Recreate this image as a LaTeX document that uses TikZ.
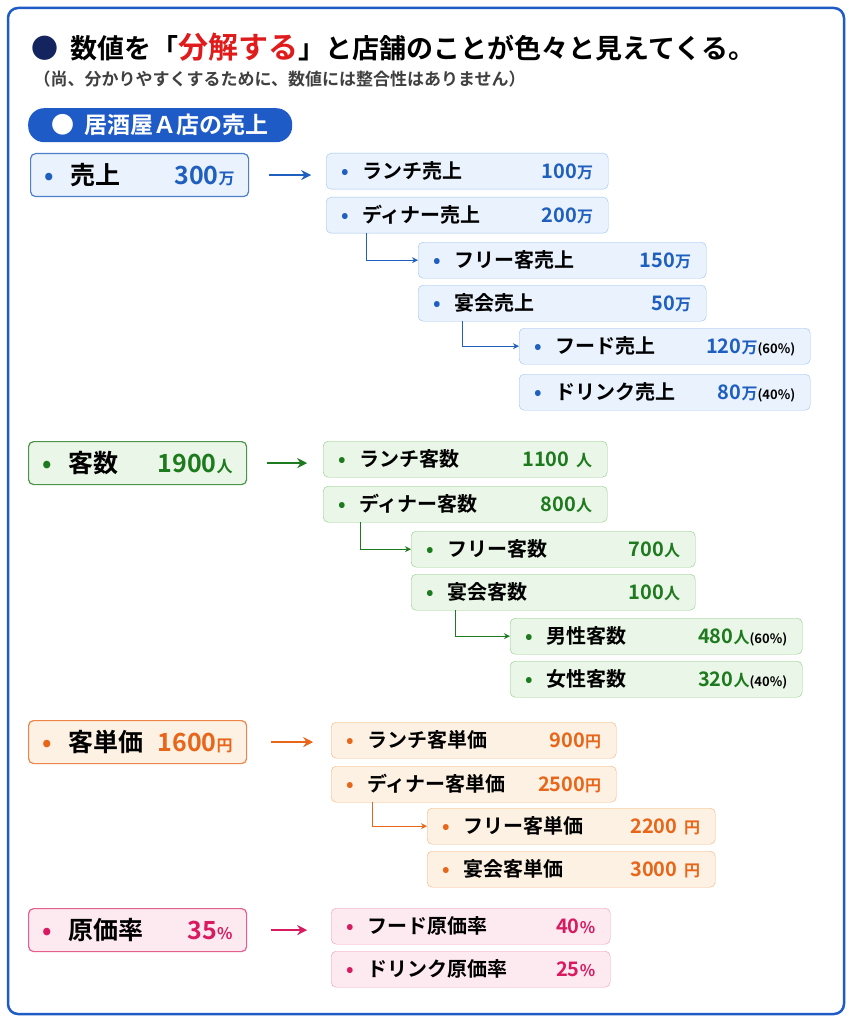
\documentclass[tikz,border=0pt]{standalone}
\usepackage{fontspec}
\setmainfont{Noto Sans CJK JP}[BoldFont={Noto Sans CJK JP Bold}]
\usetikzlibrary{arrows.meta}
\definecolor{frameblue}{HTML}{1E5BC6}
\definecolor{navy}{HTML}{14245E}
\definecolor{titlered}{HTML}{E01B1B}
\definecolor{bluetxt}{HTML}{1F5FBF}
\definecolor{bluefill}{HTML}{EAF2FD}
\definecolor{blueline}{HTML}{9CC3EF}
\definecolor{greentxt}{HTML}{1E7A1E}
\definecolor{greenfill}{HTML}{EAF6E7}
\definecolor{greenline}{HTML}{8FCC88}
\definecolor{orangetxt}{HTML}{E8661A}
\definecolor{orangefill}{HTML}{FDF1E3}
\definecolor{orangeline}{HTML}{F5B37A}
\definecolor{pinktxt}{HTML}{D81B60}
\definecolor{pinkfill}{HTML}{FDE9F0}
\definecolor{pinkline}{HTML}{F09AB8}
\newcommand{\pct}[1]{{\fontsize{13}{14}\selectfont\color{black}#1}}
\newcommand{\un}[1]{{\fontsize{16}{17}\selectfont #1}}

\begin{document}
\begin{tikzpicture}[x=1pt,y=-1pt,font=\bfseries]
    % Define styles
    \tikzset{
      box/.style={rectangle, rounded corners=5pt, anchor=north west, inner xsep=15pt,
        minimum height=36pt, align=left, font=\bfseries\fontsize{20}{22}\selectfont},
      mainbox/.style={box, line width=1.2pt, minimum height=43pt, inner xsep=14pt,
        font=\bfseries\fontsize{25}{27}\selectfont},
      bsub/.style={box, draw=blueline, fill=bluefill},
      gsub/.style={box, draw=greenline, fill=greenfill},
      osub/.style={box, draw=orangeline, fill=orangefill},
      psub/.style={box, draw=pinkline, fill=pinkfill},
      barrow/.style={-{Stealth[length=6pt,width=6pt]}, line width=1pt, bluetxt},
      garrow/.style={-{Stealth[length=6pt,width=6pt]}, line width=1pt, greentxt},
      oarrow/.style={-{Stealth[length=6pt,width=6pt]}, line width=1pt, orangetxt},
      parrow/.style={-{Stealth[length=6pt,width=6pt]}, line width=1pt, pinktxt},
      bigarrow/.style={-{Stealth[length=10pt,width=10pt]}, line width=2pt}
    }
    \useasboundingbox (0,0) rectangle (852,1024);
    \fill[white] (0,0) rectangle (852,1024);
    \draw[frameblue, line width=2.5pt, rounded corners=10pt] (8,8) rectangle (844,1014);

    % Title
    \node[anchor=west, font=\bfseries\fontsize{27}{29}\selectfont] (title) at (28,47)
      {\textcolor{navy}{●}\ \ 数値を「\textcolor{titlered}{\fontsize{30}{31}\selectfont 分解する}」と店舗のことが色々と見えてくる。};
    \node[anchor=west, font=\bfseries\fontsize{17}{18}\selectfont, text=black!75] (note) at (30,79)
      {（尚、分かりやすくするために、数値には整合性はありません）};
    \node[anchor=north west, fill=frameblue, text=white, rounded corners=16pt, minimum width=264pt,
      minimum height=34pt, inner xsep=14pt, font=\bfseries\fontsize{23}{24}\selectfont] (head) at (28,108)
      {●\ \ 居酒屋Ａ店の売上\hfill};

    % Sales
    \node[mainbox, draw=bluetxt!80, fill=bluefill, text width=190pt] (bm) at (30,153)
      {\textcolor{bluetxt}{•}\ \ 売上\hfill\textcolor{bluetxt}{300\un{万}}\hspace{10pt}};
    \node[bsub, text width=252pt] (b1) at (326,153) {\textcolor{bluetxt}{•}\ \ ランチ売上\hfill\textcolor{bluetxt}{100\un{万}}\hspace{20pt}};
    \node[bsub, text width=252pt] (b2) at (326,197) {\textcolor{bluetxt}{•}\ \ ディナー売上\hfill\textcolor{bluetxt}{200\un{万}}\hspace{17pt}};
    \node[bsub, text width=258pt] (b3) at (418,242) {\textcolor{bluetxt}{•}\ \ フリー客売上\hfill\textcolor{bluetxt}{150\un{万}}\hspace{16pt}};
    \node[bsub, text width=258pt] (b4) at (418,285) {\textcolor{bluetxt}{•}\ \ 宴会売上\hfill\textcolor{bluetxt}{50\un{万}}\hspace{24pt}};
    \node[bsub, text width=261pt] (b5) at (519,328) {\textcolor{bluetxt}{•}\ \ フード売上\hfill\textcolor{bluetxt}{120\un{万}}\pct{(60\%)}};
    \node[bsub, text width=261pt] (b6) at (519,374) {\textcolor{bluetxt}{•}\ \ ドリンク売上\hfill\textcolor{bluetxt}{80\un{万}}\pct{(40\%)}};
    \draw[bigarrow, bluetxt] ([xshift=20pt]bm.east) -- ([xshift=62pt]bm.east);
    \draw[barrow] ([xshift=40pt]b2.south west) |- (b3.west);
    \draw[barrow] ([xshift=44pt]b4.south west) |- (b5.west);

    % Customers
    \node[mainbox, draw=greentxt!80, fill=greenfill, text width=190pt] (gm) at (28,441)
      {\textcolor{greentxt}{•}\ \ 客数\hfill\textcolor{greentxt}{1900\un{人}}\hspace{10pt}};
    \node[gsub, text width=254pt] (g1) at (323,441) {\textcolor{greentxt}{•}\ \ ランチ客数\hfill\textcolor{greentxt}{1100\ \un{人}}\hspace{8pt}};
    \node[gsub, text width=254pt] (g2) at (323,486) {\textcolor{greentxt}{•}\ \ ディナー客数\hfill\textcolor{greentxt}{800\un{人}}\hspace{22pt}};
    \node[gsub, text width=254pt] (g3) at (411,531) {\textcolor{greentxt}{•}\ \ フリー客数\hfill\textcolor{greentxt}{700\un{人}}\hspace{8pt}};
    \node[gsub, text width=254pt] (g4) at (411,574) {\textcolor{greentxt}{•}\ \ 宴会客数\hfill\textcolor{greentxt}{100\un{人}}\hspace{8pt}};
    \node[gsub, text width=262pt] (g5) at (510,618) {\textcolor{greentxt}{•}\ \ 男性客数\hfill\textcolor{greentxt}{480\un{人}}\pct{(60\%)}};
    \node[gsub, text width=262pt] (g6) at (510,661) {\textcolor{greentxt}{•}\ \ 女性客数\hfill\textcolor{greentxt}{320\un{人}}\pct{(40\%)}};
    \draw[bigarrow, greentxt] ([xshift=20pt]gm.east) -- ([xshift=60pt]gm.east);
    \draw[garrow] ([xshift=37pt]g2.south west) |- (g3.west);
    \draw[garrow] ([xshift=44pt]g4.south west) |- (g5.west);

    % Spend per customer
    \node[mainbox, draw=orangetxt!80, fill=orangefill, text width=190pt] (om) at (28,720)
      {\textcolor{orangetxt}{•}\ \ 客単価\hfill\textcolor{orangetxt}{1600\un{円}}\hspace{0pt}};
    \node[osub, text width=255pt] (o1) at (331,722) {\textcolor{orangetxt}{•}\ \ ランチ客単価\hfill\textcolor{orangetxt}{900\un{円}}\hspace{12pt}};
    \node[osub, text width=255pt] (o2) at (331,766) {\textcolor{orangetxt}{•}\ \ ディナー客単価\hfill\textcolor{orangetxt}{2500\un{円}}\hspace{12pt}};
    \node[osub, text width=258pt] (o3) at (427,808) {\textcolor{orangetxt}{•}\ \ フリー客単価\hfill\textcolor{orangetxt}{2200\ \un{円}}};
    \node[osub, text width=258pt] (o4) at (427,851) {\textcolor{orangetxt}{•}\ \ 宴会客単価\hfill\textcolor{orangetxt}{3000\ \un{円}}};
    \draw[bigarrow, orangetxt] ([xshift=24pt]om.east) -- ([xshift=66pt]om.east);
    \draw[oarrow] ([xshift=41pt]o2.south west) |- (o3.west);

    % Cost rate
    \node[mainbox, draw=pinktxt!70, fill=pinkfill, text width=190pt] (pm) at (28,908)
      {\textcolor{pinktxt}{•}\ \ 原価率\hfill\textcolor{pinktxt}{35\un{\%}}\hspace{10pt}};
    \node[psub, text width=249pt] (p1) at (331,908) {\textcolor{pinktxt}{•}\ \ フード原価率\hfill\textcolor{pinktxt}{40\un{\%}}\hspace{24pt}};
    \node[psub, text width=249pt] (p2) at (331,951) {\textcolor{pinktxt}{•}\ \ ドリンク原価率\hfill\textcolor{pinktxt}{25\un{\%}}\hspace{24pt}};
    \draw[bigarrow, pinktxt] ([xshift=24pt]pm.east) -- ([xshift=60pt]pm.east);
\end{tikzpicture}
\end{document}
